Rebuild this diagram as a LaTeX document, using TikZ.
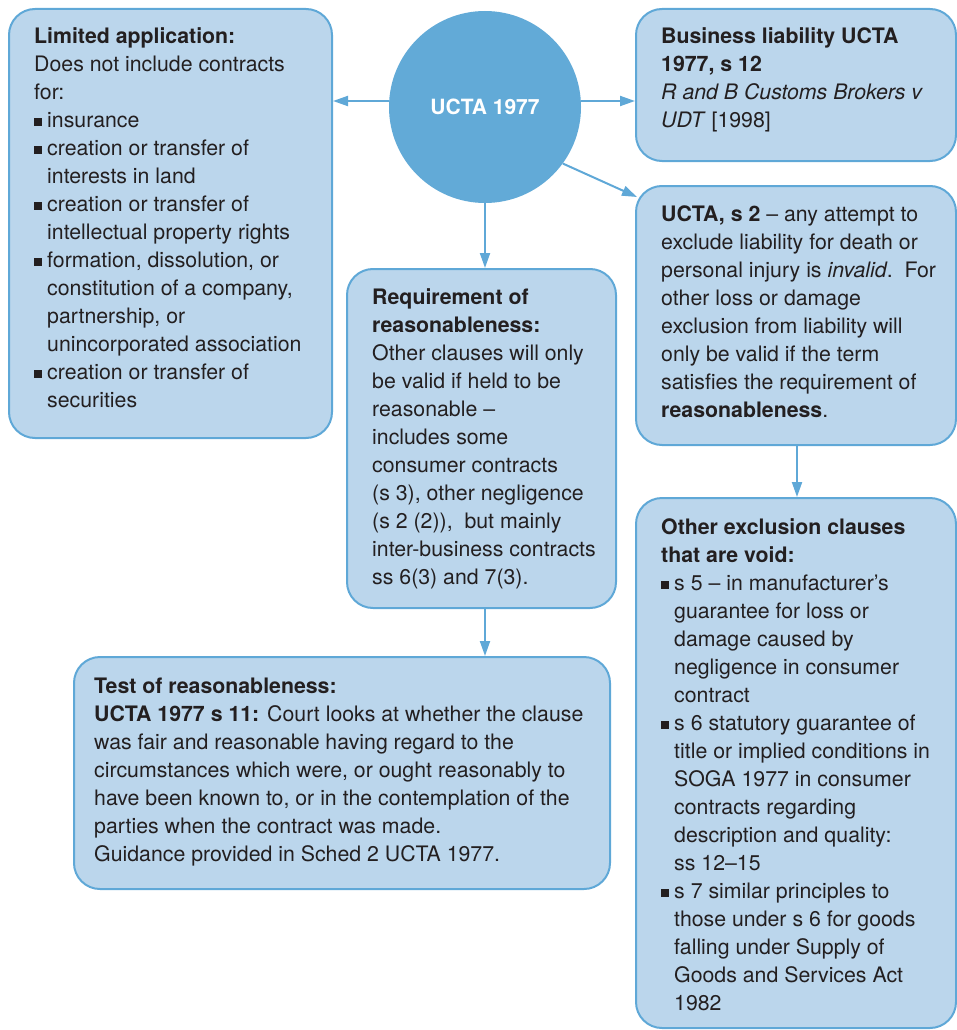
\documentclass[tikz,border=0pt]{standalone}
\usepackage{fontspec}
\setmainfont{TeX Gyre Heros}
\usetikzlibrary{arrows.meta,calc}
\definecolor{boxfill}{RGB}{187,214,236}
\definecolor{edge}{RGB}{95,168,215}
\definecolor{hub}{RGB}{98,170,215}
\definecolor{ink}{RGB}{35,31,32}
% square bullet and matching hanging indent
\newcommand{\bul}{\makebox[13pt][l]{\rule[1pt]{8pt}{8pt}}}
\newcommand{\ind}{\hspace*{13pt}}
\tikzset{
  panel/.style={draw=edge, fill=boxfill, line width=2pt, rounded corners=26pt,
    inner sep=0pt, anchor=north west},
  body/.style={anchor=north west, inner sep=0pt, align=left, text=ink,
    font=\fontsize{21.3}{28}\selectfont},
  arr/.style={draw=edge, line width=2pt, -{Triangle[length=15pt,width=10pt]}}
}
\begin{document}
\begin{tikzpicture}[x=1pt,y=-1pt]
\useasboundingbox (0,0) rectangle (956,1030);

% panels
\node[panel, minimum width=323pt, minimum height=429pt] (lim) at (8,8) {};
\node[panel, minimum width=320pt, minimum height=152pt] (bus) at (635,8) {};
\node[panel, minimum width=320pt, minimum height=259pt] (s2) at (635,185) {};
\node[panel, minimum width=320pt, minimum height=530pt] (oth) at (635,497) {};
\node[panel, minimum width=269pt, minimum height=339pt] (req) at (346,268) {};
\node[panel, minimum width=536pt, minimum height=232pt] (tst) at (73,656) {};

% central circle
\node[circle, fill=hub, minimum size=192pt, inner sep=0pt, text=white,
  font=\fontsize{21}{28}\selectfont\bfseries] (uc) at (485,107) {UCTA 1977};

% connectors
\draw[arr] (uc.west |- 0,101) -- (lim.east |- 0,101);
\draw[arr] (uc.east |- 0,101) -- (bus.west |- 0,101);
\coordinate (s2in) at ($(s2.north west)+(2,12)$);
\draw[arr] (uc.-36) -- (s2in);
\draw[arr] (uc.south) -- (req.north -| uc.south);
\draw[arr] (s2.south -| 797,0) -- (oth.north -| 797,0);
\draw[arr] (req.south -| 485,0) -- (tst.north -| 485,0);

% texts
\node[body] (limt) at (34,23.4) {\strut\textbf{Limited application:}\\
Does not include contracts\\
for:\\
\bul insurance\\
\bul creation or transfer of\\
\ind interests in land\\
\bul creation or transfer of\\
\ind intellectual property rights\\
\bul formation, dissolution, or\\
\ind constitution of a company,\\
\ind partnership, or\\
\ind unincorporated association\\
\bul creation or transfer of\\
\ind securities};

\node[body] (bust) at (661,23.4) {\strut\textbf{Business liability UCTA}\\
\textbf{1977, s 12}\\
\textit{R and B Customs Brokers v}\\
\textit{UDT} [1998]};

\node[body] (s2t) at (661,201.4) {\strut\textbf{UCTA, s 2} – any attempt to\\
exclude liability for death or\\
personal injury is \textit{invalid}.\ \ For\\
other loss or damage\\
exclusion from liability will\\
only be valid if the term\\
satisfies the requirement of\\
\textbf{reasonableness}.};

\node[body] (reqt) at (372,284.4) {\strut\textbf{Requirement of}\\
\textbf{reasonableness:}\\
Other clauses will only\\
be valid if held to be\\
reasonable –\\
includes some\\
consumer contracts\\
(s 3), other negligence\\
(s 2 (2)),\ \ but mainly\\
inter-business contracts\\
ss 6(3) and 7(3).};

\node[body] (tstt) at (94,673.4) {\strut\textbf{Test of reasonableness:}\\
\textbf{UCTA 1977 s 11:} Court looks at whether the clause\\
was fair and reasonable having regard to the\\
circumstances which were, or ought reasonably to\\
have been known to, or in the contemplation of the\\
parties when the contract was made.\\
Guidance provided in Sched 2 UCTA 1977.};

\node[body] (otht) at (661,514.4) {\strut\textbf{Other exclusion clauses}\\
\textbf{that are void:}\\
\bul s 5 – in manufacturer’s\\
\ind guarantee for loss or\\
\ind damage caused by\\
\ind negligence in consumer\\
\ind contract\\
\bul s 6 statutory guarantee of\\
\ind title or implied conditions in\\
\ind SOGA 1977 in consumer\\
\ind contracts regarding\\
\ind description and quality:\\
\ind ss 12–15\\
\bul s 7 similar principles to\\
\ind those under s 6 for goods\\
\ind falling under Supply of\\
\ind Goods and Services Act\\
\ind 1982};
\end{tikzpicture}
\end{document}
